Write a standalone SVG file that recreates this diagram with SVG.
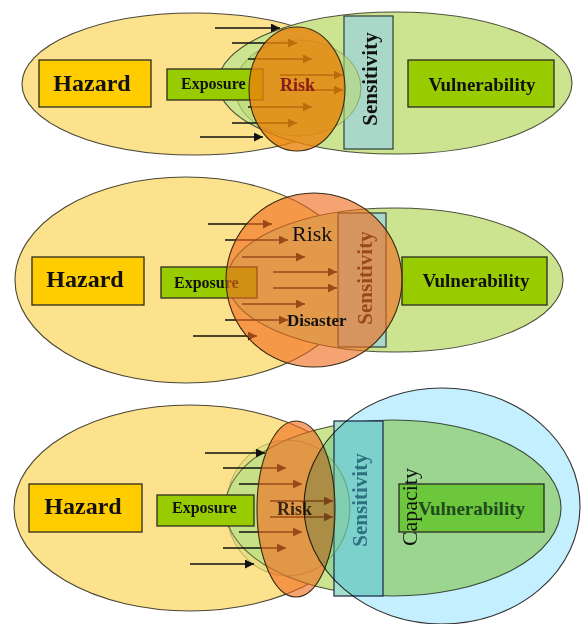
<svg xmlns="http://www.w3.org/2000/svg" width="582" height="624" viewBox="0 0 582 624">
<defs>
<style>
text{font-family:"Liberation Serif","Times New Roman",serif;fill:#111}
.b{font-weight:bold}
.yel{fill:#FCE28C;stroke:#4a4636;stroke-width:1.1}
.grn{fill:#CCE490;stroke:#4a4f36;stroke-width:1.1}
.box{stroke:#2c2c20;stroke-width:1.3}
.hz{fill:#FFCC00}
.ex{fill:#99CC00}
.sen{fill:#AAD8C8;stroke:#2c3c3c;stroke-width:1.2}
.arr{stroke:#111;stroke-width:1.3;fill:none;marker-end:url(#ah)}
.or1{fill:#E8820A;fill-opacity:0.8;stroke:#3a2a10;stroke-width:1.1}
.or2{fill:#F06A1E;fill-opacity:0.62;stroke:#3a2a10;stroke-width:1.1}
</style>
<marker id="ah" viewBox="0 0 10 10" refX="10" refY="5" markerWidth="11" markerHeight="9" markerUnits="userSpaceOnUse" orient="auto">
<path d="M0,0 L10,5 L0,10 z" fill="#111"/>
</marker>
</defs>
<rect width="582" height="624" fill="#ffffff"/>

<!-- PANEL 1 -->
<g id="p1-hazard-area"><ellipse class="yel" cx="194" cy="84" rx="172" ry="71"/></g>
<g id="p1-vulnerability-area"><ellipse class="grn" cx="395" cy="83" rx="177" ry="71"/></g>
<g id="p1-sensitivity">
<rect class="sen" x="344" y="16" width="49" height="133"/>
<text class="b" font-size="21" text-anchor="middle" transform="translate(377,79) rotate(-90)">Sensitivity</text>
</g>
<g id="p1-exposure-area"><ellipse cx="298" cy="88" rx="63" ry="48" fill="#B8D870" fill-opacity="0.55" stroke="#6f7f3a" stroke-opacity="0.6" stroke-width="1"/></g>
<g id="p1-hazard">
<rect class="box hz" x="39" y="60" width="112" height="47"/>
<text class="b" font-size="24" x="92" y="91" text-anchor="middle">Hazard</text>
</g>
<g id="p1-exposure">
<rect class="box ex" x="167" y="69" width="96" height="31"/>
<text class="b" font-size="16" x="181" y="89">Exposure</text>
</g>
<g id="p1-vulnerability">
<rect class="box ex" x="408" y="60" width="146" height="47"/>
<text class="b" font-size="19" x="482" y="91" text-anchor="middle">Vulnerability</text>
</g>
<g id="p1-connectors">
<line class="arr" x1="215" y1="28" x2="280" y2="28"/>
<line class="arr" x1="232" y1="43" x2="297" y2="43"/>
<line class="arr" x1="248" y1="59" x2="312" y2="59"/>
<line class="arr" x1="280" y1="75" x2="343" y2="75"/>
<line class="arr" x1="280" y1="90" x2="343" y2="90"/>
<line class="arr" x1="248" y1="107" x2="312" y2="107"/>
<line class="arr" x1="232" y1="123" x2="297" y2="123"/>
<line class="arr" x1="200" y1="137" x2="263" y2="137"/>
</g>
<g id="p1-risk">
<ellipse class="or1" cx="297" cy="89" rx="48" ry="62"/>
<text class="b" font-size="18" x="280" y="91" style="fill:#8B1A1A">Risk</text>
</g>

<!-- PANEL 2 -->
<g id="p2-hazard-area"><ellipse class="yel" cx="186" cy="280" rx="171" ry="103"/></g>
<g id="p2-vulnerability-area"><ellipse class="grn" cx="395" cy="280" rx="168" ry="72"/></g>
<g id="p2-sensitivity">
<rect class="sen" x="338" y="213" width="48" height="134"/>
<text class="b" font-size="21" text-anchor="middle" transform="translate(372,278) rotate(-90)">Sensitivity</text>
</g>
<g id="p2-hazard">
<rect class="box hz" x="32" y="257" width="112" height="48"/>
<text class="b" font-size="24" x="85" y="287" text-anchor="middle">Hazard</text>
</g>
<g id="p2-exposure">
<rect class="box ex" x="161" y="267" width="96" height="31"/>
<text class="b" font-size="16" x="174" y="288">Exposure</text>
</g>
<g id="p2-vulnerability">
<rect class="box ex" x="402" y="257" width="145" height="48"/>
<text class="b" font-size="19" x="476" y="287" text-anchor="middle">Vulnerability</text>
</g>
<g id="p2-connectors">
<line class="arr" x1="208" y1="224" x2="272" y2="224"/>
<line class="arr" x1="225" y1="240" x2="288" y2="240"/>
<line class="arr" x1="242" y1="257" x2="305" y2="257"/>
<line class="arr" x1="273" y1="272" x2="337" y2="272"/>
<line class="arr" x1="273" y1="288" x2="337" y2="288"/>
<line class="arr" x1="242" y1="304" x2="305" y2="304"/>
<line class="arr" x1="225" y1="320" x2="288" y2="320"/>
<line class="arr" x1="193" y1="336" x2="257" y2="336"/>
</g>
<g id="p2-risk">
<ellipse class="or2" cx="314" cy="280" rx="88" ry="87"/>
<text font-size="22" x="292" y="241">Risk</text>
<text class="b" font-size="17" x="287" y="326">Disaster</text>
</g>

<!-- PANEL 3 -->
<g id="p3-hazard-area"><ellipse class="yel" cx="190" cy="508" rx="176" ry="103"/></g>
<g id="p3-vulnerability-area"><ellipse class="grn" cx="393" cy="508" rx="168" ry="88"/></g>
<g id="p3-sensitivity-box">
<rect x="334" y="421" width="49" height="175" fill="#A3DFCD" stroke="#2a3550" stroke-width="1.3"/>
</g>
<g id="p3-exposure-area"><ellipse cx="288" cy="508" rx="62" ry="68" fill="#B8D870" fill-opacity="0.3" stroke="#5f7a40" stroke-opacity="0.5" stroke-width="1"/></g>
<g id="p3-hazard">
<rect class="box hz" x="29" y="484" width="113" height="48"/>
<text class="b" font-size="24" x="83" y="514" text-anchor="middle">Hazard</text>
</g>
<g id="p3-exposure">
<rect class="box ex" x="157" y="495" width="97" height="31"/>
<text class="b" font-size="16" x="172" y="513">Exposure</text>
</g>
<g id="p3-connectors">
<line class="arr" x1="205" y1="453" x2="265" y2="453"/>
<line class="arr" x1="223" y1="468" x2="286" y2="468"/>
<line class="arr" x1="239" y1="484" x2="302" y2="484"/>
<line class="arr" x1="270" y1="501" x2="333" y2="501"/>
<line class="arr" x1="270" y1="517" x2="333" y2="517"/>
<line class="arr" x1="239" y1="532" x2="302" y2="532"/>
<line class="arr" x1="223" y1="548" x2="286" y2="548"/>
<line class="arr" x1="190" y1="564" x2="254" y2="564"/>
</g>
<g id="p3-risk">
<ellipse class="or2" cx="296" cy="509" rx="39" ry="88"/>
<text class="b" font-size="18" x="277" y="515" style="fill:#3A2410">Risk</text>
</g>
<g id="p3-capacity-area">
<ellipse cx="442" cy="506" rx="138" ry="118" fill="#C3EFFF" stroke="#333" stroke-width="1.1" style="mix-blend-mode:multiply"/>
</g>
<g id="p3-sensitivity">
<text class="b" font-size="21" text-anchor="middle" transform="translate(367,500) rotate(-90)" style="fill:#2E7080">Sensitivity</text>
</g>
<g id="p3-vulnerability">
<rect class="box" x="399" y="484" width="145" height="48" fill="#6CC73C"/>
<text class="b" font-size="19" x="418" y="515" style="fill:#1E4A1E">Vulnerability</text>
</g>
<g id="p3-capacity">
<text font-size="22" text-anchor="middle" transform="translate(417,507) rotate(-90)">Capacity</text>
</g>
</svg>
